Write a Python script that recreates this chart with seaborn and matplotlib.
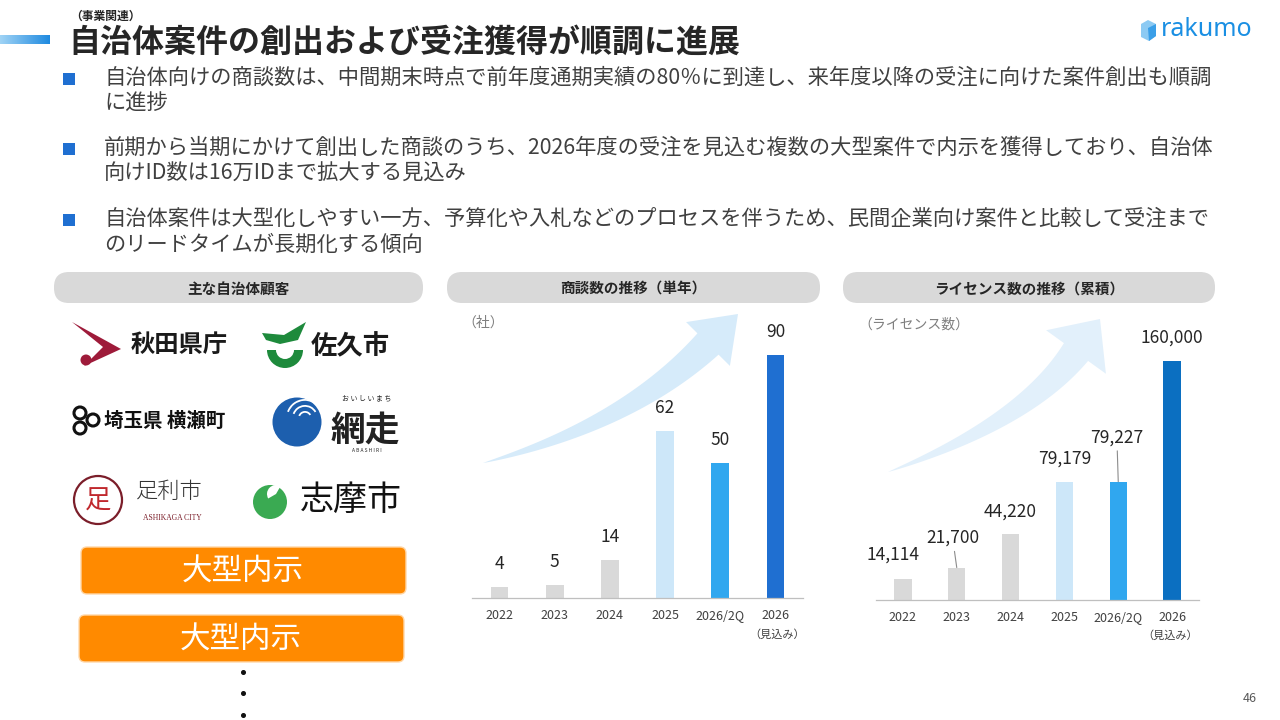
"""Slide recreation: municipal deals and license growth (rakumo p.46)."""

import matplotlib
matplotlib.use("Agg")
import matplotlib.pyplot as plt
import numpy as np
import seaborn as sns
from matplotlib.patches import Circle, FancyBboxPatch, Polygon, Rectangle, Wedge

# ---- data -------------------------------------------------------------
years = ["2022", "2023", "2024", "2025", "2026/2Q", "2026"]
deals = [4, 5, 14, 62, 50, 90]
licenses = [14114, 21700, 44220, 79179, 79227, 160000]

deal_colors = ["#d9d9d9", "#d9d9d9", "#d9d9d9", "#cde7f9", "#30a7ef", "#1f6fd1"]
license_colors = ["#d9d9d9", "#d9d9d9", "#d9d9d9", "#cde7f9", "#30a7ef", "#0b6fc1"]

title_small = "（事業関連）"
title = "自治体案件の創出および受注獲得が順調に進展"
bullets = [
    ["自治体向けの商談数は、中間期末時点で前年度通期実績の80％に到達し、来年度以降の受注に向けた案件創出も順調",
     "に進捗"],
    ["前期から当期にかけて創出した商談のうち、2026年度の受注を見込む複数の大型案件で内示を獲得しており、自治体",
     "向けID数は16万IDまで拡大する見込み"],
    ["自治体案件は大型化しやすい一方、予算化や入札などのプロセスを伴うため、民間企業向け案件と比較して受注まで",
     "のリードタイムが長期化する傾向"],
]
panel_titles = ["主な自治体顧客", "商談数の推移（単年）", "ライセンス数の推移（累積）"]
big_deal_label = "大型内示"

W, H = 1280, 720
TXT = "#404040"


def frac(x0, y0, x1, y1):
    """pixel box (top-left origin) -> figure fraction rect"""
    return [x0 / W, 1 - y1 / H, (x1 - x0) / W, (y1 - y0) / H]


def swoosh(ax, p0, ctrl, base, tip, shaft_w, head_w, color):
    p0, ctrl, base, tip = map(np.asarray, (p0, ctrl, base, tip))
    t = np.linspace(0, 1, 80)[:, None]
    pts = (1 - t) ** 2 * p0 + 2 * (1 - t) * t * ctrl + t ** 2 * base
    d = np.gradient(pts, axis=0)
    n = np.stack([-d[:, 1], d[:, 0]], axis=1)
    n /= np.linalg.norm(n, axis=1)[:, None]
    w = shaft_w / 2 * t[:, 0] ** 0.85
    left = pts + n * w[:, None]
    right = pts - n * w[:, None]
    u = (tip - base) / np.linalg.norm(tip - base)
    nn = np.array([-u[1], u[0]])
    head = [base + nn * head_w / 2, tip, base - nn * head_w / 2]
    poly = np.vstack([left, head, right[::-1]])
    ax.add_patch(Polygon(poly, closed=True, color=color, lw=0, zorder=1))


def pill(ax, x0, y0, x1, y1, label):
    ax.add_patch(FancyBboxPatch((x0, y0), x1 - x0, y1 - y0,
                                boxstyle="round,pad=0,rounding_size=15",
                                fc="#d9d9d9", ec="none", zorder=2))
    ax.text((x0 + x1) / 2, (y0 + y1) / 2 + 1, label, ha="center", va="center",
            fontsize=10.5, fontweight="bold", color="#262626", zorder=3)


def style_chart(ax):
    ax.set_xlim(-0.5, len(years) - 0.5)
    ax.set_xlabel("")
    ax.set_ylabel("")
    ax.set_yticks([])
    ax.patch.set_alpha(0)
    for side in ["top", "right", "left"]:
        ax.spines[side].set_visible(False)
    ax.spines["bottom"].set_color("#bfbfbf")
    ax.spines["bottom"].set_linewidth(0.9)
    ax.set_xticks(np.arange(-0.5, len(years), 1), minor=True)
    ax.tick_params(axis="x", which="minor", length=4, width=0.9, color="#bfbfbf")
    ax.tick_params(axis="x", which="major", length=0, pad=8, labelsize=9, labelcolor=TXT)


sns.set_theme(style="white")
plt.rcParams["font.family"] = ["Noto Sans CJK JP", "DejaVu Sans"]

fig = plt.figure(figsize=(12.8, 7.2), dpi=100)
bg = fig.add_axes([0, 0, 1, 1])
bg.set_xlim(0, W)
bg.set_ylim(H, 0)
bg.axis("off")

# ---- header -----------------------------------------------------------
grad = np.linspace(0, 1, 100)[None, :]
bg.imshow(grad, extent=(0, 50, 44, 35), cmap=matplotlib.colors.LinearSegmentedColormap.from_list(
    "b", ["#9fd3f5", "#1f8ae0"]), aspect="auto", zorder=2)
bg.text(70, 16, title_small, fontsize=8.5, fontweight="bold", color="#262626", va="center")
bg.text(68, 43, title, fontsize=23, fontweight="bold", color="#262626", va="center")

# rakumo logo
bg.add_patch(Polygon([(1141, 24), (1148, 20), (1156, 24), (1156, 36), (1149, 41), (1141, 37)],
                     closed=True, fc="#8ccaf3", ec="none", zorder=2))
bg.add_patch(Polygon([(1148, 28), (1156, 24), (1156, 36), (1149, 41)],
                     closed=True, fc="#3a9fe8", ec="none", zorder=3))
bg.text(1161, 30, "rakumo", fontsize=18, fontweight="bold", color="#1a8fe3", va="center",
        family=["Noto Sans", "DejaVu Sans"])

# ---- bullets ----------------------------------------------------------
line_y = [(78, 104), (148, 174), (219, 245)]
for lines, ys in zip(bullets, line_y):
    bg.add_patch(Rectangle((63, ys[0] - 5), 12, 12, fc="#1f6fd1", ec="none"))
    for txt, y in zip(lines, ys):
        bg.text(104, y, txt, fontsize=15.3, color=TXT, va="center")

# ---- panel headers ----------------------------------------------------
pill(bg, 54, 272, 423, 303, panel_titles[0])
pill(bg, 447, 272, 820, 303, panel_titles[1])
pill(bg, 843, 272, 1215, 303, panel_titles[2])

# ---- customer logos (approximated) -----------------------------------
# Akita
bg.add_patch(Polygon([(72, 322), (121, 349), (84, 366), (103, 347)], closed=True, fc="#9e1b3a", ec="none"))
bg.add_patch(Circle((86, 360), 5.5, fc="#9e1b3a", ec="none"))
bg.text(131, 345, "秋田県庁", fontsize=17.5, fontweight="bold", color="#1a1a1a", va="center")
# Saku
bg.add_patch(Wedge((285, 350), 18, 0, 180, width=9, fc="#1e8a3c", ec="none"))
bg.add_patch(Polygon([(262, 333), (284, 335), (306, 322), (298, 340), (280, 344), (266, 340)],
                     closed=True, fc="#1e8a3c", ec="none"))
bg.text(311, 347, "佐久市", fontsize=19, fontweight="bold", color="#1a1a1a", va="center")
# Yokoze
for cx, cy in [(80, 413), (93, 420), (80, 428)]:
    bg.add_patch(Circle((cx, cy), 6, fc="none", ec="#111111", lw=2.2))
bg.text(104, 421, "埼玉県 横瀬町", fontsize=14, fontweight="bold", color="#111111", va="center")
# Abashiri
bg.add_patch(Circle((297, 422), 24.5, fc="#1d5fae", ec="none"))
for r in [7, 13, 19]:
    bg.add_patch(Wedge((305, 418), r, 200, 330, width=1.8, fc="white", ec="none"))
bg.text(331, 430, "網走", fontsize=25, fontweight="bold", color="#222222", va="center")
bg.text(367, 398, "お い し い ま ち", fontsize=5, color="#222222", ha="center", va="center")
bg.text(367, 451, "A B A S H I R I", fontsize=3.5, color="#222222", ha="center", va="center")
# Ashikaga
bg.add_patch(Circle((98, 500), 24, fc="white", ec="#7b1e2a", lw=1.6))
bg.text(98, 501, "足", fontsize=19, color="#c0282d", ha="center", va="center")
bg.text(136, 492, "足利市", fontsize=16, fontweight="light", color="#333333", va="center")
bg.text(172, 518, "ASHIKAGA CITY", fontsize=5.5, color="#7b1e2a", ha="center", va="center",
        family=["Liberation Serif", "DejaVu Serif"])
# Shima
bg.add_patch(Circle((270, 502), 17, fc="#3aaa52", ec="none"))
bg.add_patch(Wedge((276, 494), 9, 150, 300, fc="white", ec="none"))
bg.text(300, 500, "志摩市", fontsize=24.5, color="#111111", va="center")

# big-deal boxes
for x0, y0 in [(81, 547), (79, 615)]:
    bg.add_patch(FancyBboxPatch((x0, y0), 325, 47, boxstyle="round,pad=0,rounding_size=6",
                                fc="#ff8a00", ec="#ffd7a8", lw=1.0))
    bg.text(x0 + 162, y0 + 25, big_deal_label, fontsize=22, color="white", ha="center", va="center")
bg.plot([243, 243, 243], [672, 693, 715], "o", ms=2.6, color="#111111")

# ---- growth arrows -----------------------------------------------------
swoosh(bg, (483, 463), (627, 425), (708, 344), (738, 314), 30, 62, "#d6ebfa")
swoosh(bg, (888, 472), (1025, 422), (1076, 352), (1100, 319), 30, 74, "#e2f0fb")

# ---- chart 1: deals ---------------------------------------------------
ax1 = fig.add_axes(frac(472, 310, 803, 598))
sns.barplot(x=years, y=deals, hue=years, palette=deal_colors, dodge=False, legend=False,
            width=0.32, saturation=1, linewidth=0, ax=ax1)
ax1.set_ylim(0, 288 / 2.7)
style_chart(ax1)
for i, v in enumerate(deals):
    ax1.annotate(f"{v}", (i, v), xytext=(0, 16.5), textcoords="offset points",
                 ha="center", va="center", fontsize=12.5, color="#262626")
bg.text(462, 323, "（社）", fontsize=10, color="#7f7f7f", va="center", ha="left")
bg.text(777, 635, "（見込み）", fontsize=8, color=TXT, ha="center", va="center")

# ---- chart 2: licenses -------------------------------------------------
ax2 = fig.add_axes(frac(876, 310, 1199, 600))
sns.barplot(x=years, y=licenses, hue=years, palette=license_colors, dodge=False, legend=False,
            width=0.32, saturation=1, linewidth=0, ax=ax2)
ax2.set_ylim(0, 290 / 239 * 160000)
style_chart(ax2)
# label offsets in points (dx, dy) and whether a leader line is drawn
label_offsets = [(-7, 17.5, False), (-3, 21.5, True), (0, 16, False),
                 (0, 16.5, False), (-1, 32, True), (0, 16.5, False)]
for i, (v, (dx, dy, lead)) in enumerate(zip(licenses, label_offsets)):
    props = dict(arrowstyle="-", color="#8c8c8c", lw=0.8, shrinkA=1, shrinkB=0) if lead else None
    ax2.annotate(f"{v:,}", (i, v), xytext=(dx, dy), textcoords="offset points",
                 ha="center", va="center", fontsize=12.5, color="#262626", arrowprops=props)
bg.text(858, 325, "（ライセンス数）", fontsize=10, color="#7f7f7f", va="center", ha="left")
bg.text(1170, 636, "（見込み）", fontsize=8, color=TXT, ha="center", va="center")

bg.text(1250, 698, "46", fontsize=9, color="#595959", ha="center", va="center")

fig.savefig("out.png", dpi=100)
